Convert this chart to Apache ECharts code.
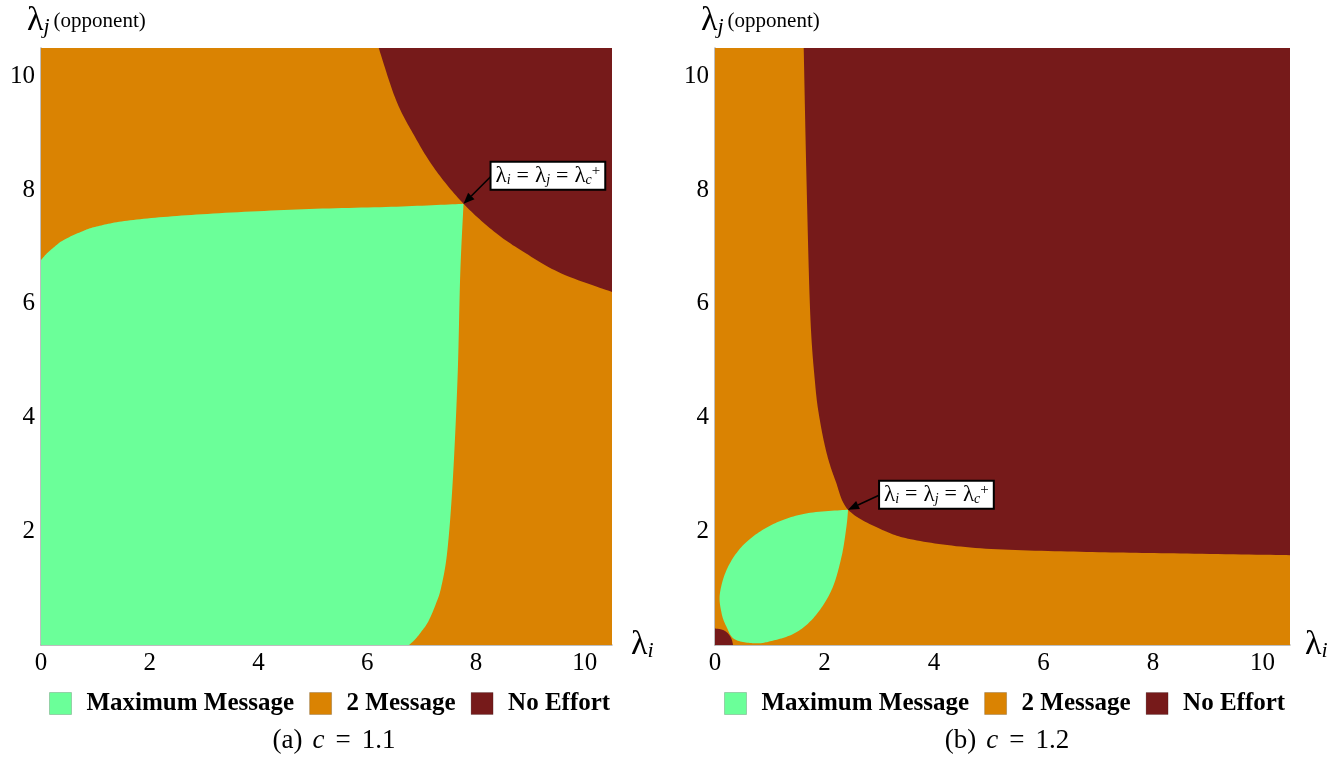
<!DOCTYPE html>
<html><head><meta charset="utf-8">
<script src="https://cdn.jsdelivr.net/npm/echarts@6/dist/echarts.min.js"></script>
<style>html,body{margin:0;padding:0;background:#fff}#c{width:1332px;height:759px}</style>
</head><body><div id="c"></div>
<script>
// ---------------- data ----------------
const tickValues = [0, 2, 4, 6, 8, 10];
const axisMin = 0, axisMax = 10.5;
const regionNames = ['Maximum Message', '2 Message', 'No Effort'];
const captionTags = ['(a)', '(b)'];
const cValues = ['1.1', '1.2'];

// panel (a): c = 1.1  — boundary curves
const plotBoxA = [[0, 0], [10.5, 0], [10.5, 10.5], [0, 10.5]];
const maxMsgTopA = [[0, 6.77], [0.10, 6.88], [0.23, 6.99], [0.41, 7.12], [0.72, 7.26], [1.02, 7.36], [1.64, 7.47], [2.86, 7.57],
  [4.70, 7.66], [6.54, 7.71], [7.77, 7.76]];
const maxMsgRightA = [[7.77, 7.76], [7.71, 6.54], [7.66, 4.70], [7.57, 2.86], [7.47, 1.64], [7.36, 1.02], [7.26, 0.72],
  [7.12, 0.41], [6.99, 0.23], [6.88, 0.10], [6.77, 0]];
const noEffortCurveA = [[6.21, 10.5], [6.53, 9.58], [6.88, 8.93], [7.25, 8.36], [7.77, 7.76], [8.36, 7.25], [8.93, 6.88],
  [9.58, 6.53], [10.5, 6.21]];
const criticalA = [7.77, 7.76];

// panel (b): c = 1.2
const plotBoxB = [[0, 0], [10.5, 0], [10.5, 10.5], [0, 10.5]];
const maxMsgLoopB = [[2.43, 2.38], [1.64, 2.31], [1.03, 2.11], [0.55, 1.79], [0.24, 1.38], [0.09, 0.91], [0.12, 0.56],
  [0.21, 0.32], [0.36, 0.10], [0.73, 0.03], [1.03, 0.07], [1.46, 0.21], [1.82, 0.50], [2.13, 0.97], [2.31, 1.55],
  [2.40, 2.08], [2.43, 2.38]];
const noEffortCurveB = [[1.62, 10.5], [1.67, 8.22], [1.74, 5.80], [1.83, 4.58], [1.91, 3.98], [2.04, 3.37], [2.20, 2.89],
  [2.43, 2.38], [3.02, 2.04], [3.63, 1.85], [4.85, 1.70], [6.67, 1.64], [8.50, 1.61], [10.5, 1.58]];
const noEffortCornerArcB = [[0, 0.29], [0.13, 0.27], [0.23, 0.21], [0.30, 0.11], [0.33, 0]];
const criticalB = [2.43, 2.38];

// ---------------- styling ----------------
const GREEN = '#6bff99', ORANGE = '#da8302', DARKRED = '#761a1a';
const SERIF = "'Liberation Serif','DejaVu Serif',serif";

// pieces: [{pts, smooth}] joined by straight lines; smooth pieces are drawn as Catmull-Rom curves in pixel space
function tracePieces(pieces, api) {
  const out = [];
  pieces.forEach(pc => {
    const P = pc.pts.map(p => api.coord(p));
    if (!pc.smooth || P.length < 3) { P.forEach(q => out.push(q)); return; }
    for (let i = 0; i < P.length - 1; i++) {
      const p0 = P[Math.max(i - 1, 0)], p1 = P[i], p2 = P[i + 1], p3 = P[Math.min(i + 2, P.length - 1)];
      const c1 = [p1[0] + (p2[0] - p0[0]) / 6, p1[1] + (p2[1] - p0[1]) / 6];
      const c2 = [p2[0] - (p3[0] - p1[0]) / 6, p2[1] - (p3[1] - p1[1]) / 6];
      const steps = 16;
      for (let s = 0; s < steps; s++) {
        const t = s / steps, u = 1 - t;
        out.push([
          u * u * u * p1[0] + 3 * u * u * t * c1[0] + 3 * u * t * t * c2[0] + t * t * t * p2[0],
          u * u * u * p1[1] + 3 * u * u * t * c1[1] + 3 * u * t * t * c2[1] + t * t * t * p2[1]
        ]);
      }
    }
    out.push(P[P.length - 1]);
  });
  return out;
}

function regionSeries(name, pieces, color, idx, z) {
  const allPts = [].concat(...pieces.map(p => p.pts));
  return {
    type: 'custom', name, xAxisIndex: idx, yAxisIndex: idx, z,
    itemStyle: { color }, silent: true, animation: false, clip: true,
    data: allPts, encode: { x: 0, y: 1 },
    renderItem: (params, api) => {
      if (params.dataIndex !== 0) return null;
      return { type: 'polygon', shape: { points: tracePieces(pieces, api) }, style: { fill: color } };
    }
  };
}

const annRich = {
  l: { fontFamily: SERIF, fontSize: 23, lineHeight: 24, fill: '#000' },
  t: { fontFamily: SERIF, fontSize: 22, lineHeight: 24, fill: '#000', padding: [0, 6, 0, 6] },
  s: { fontFamily: SERIF, fontSize: 14, fontStyle: 'italic', lineHeight: 14, verticalAlign: 'bottom', fill: '#000' },
  p: { fontFamily: SERIF, fontSize: 15, lineHeight: 15, verticalAlign: 'top', fill: '#000' }
};
const annText = '{l|λ}{s|i}{t|=}{l|λ}{s|j}{t|=}{l|λ}{s|c}{p|+}';

function annotationSeries(pt, idx, dx, dy) {
  return {
    type: 'custom', xAxisIndex: idx, yAxisIndex: idx, z: 10, silent: true, animation: false,
    data: [pt],
    renderItem: (params, api) => {
      const tip = api.coord([api.value(0), api.value(1)]);
      const tail = [tip[0] + dx, tip[1] + dy];
      const len = Math.hypot(dx, dy), ux = -dx / len, uy = -dy / len;
      const hl = 11, hw = 4.5;
      const base = [tip[0] - ux * hl, tip[1] - uy * hl];
      return {
        type: 'group', children: [
          { type: 'line', shape: { x1: tail[0], y1: tail[1], x2: base[0], y2: base[1] }, style: { stroke: '#000', lineWidth: 1.6 } },
          { type: 'polygon', shape: { points: [tip, [base[0] - uy * hw, base[1] + ux * hw], [base[0] + uy * hw, base[1] - ux * hw]] }, style: { fill: '#000' } },
          { type: 'text', x: tail[0], y: tail[1], style: {
              text: annText, rich: annRich, align: 'left', verticalAlign: 'middle',
              backgroundColor: '#fff', borderColor: '#000', borderWidth: 2, padding: [1, 4, 1, 4]
          } }
        ]
      };
    }
  };
}

const grids = [
  { left: 41, top: 48, width: 571, height: 597 },
  { left: 715, top: 48, width: 575, height: 597 }
];

function xAxis(idx) {
  return {
    type: 'value', gridIndex: idx, min: axisMin, max: axisMax, interval: 2,
    axisLine: { show: true, lineStyle: { color: '#a8a8a8', width: 1.5 } },
    axisTick: { show: false }, splitLine: { show: false },
    axisLabel: { fontFamily: SERIF, fontSize: 25, color: '#000', margin: 6,
      formatter: v => tickValues.includes(v) ? String(v) : '' }
  };
}
function yAxis(idx) {
  return {
    type: 'value', gridIndex: idx, min: axisMin, max: axisMax, interval: 2,
    axisLine: { show: true, lineStyle: { color: '#a8a8a8', width: 1.5 } },
    axisTick: { show: false }, splitLine: { show: false },
    axisLabel: { fontFamily: SERIF, fontSize: 25, color: '#000', margin: 6,
      formatter: v => (tickValues.includes(v) && v !== 0) ? String(v) : '' }
  };
}

function legend(left) {
  return {
    left, top: 686, data: regionNames, icon: 'rect', itemWidth: 22, itemHeight: 22, itemGap: 15,
    selectedMode: false,
    itemStyle: { borderWidth: 1, borderColor: 'rgba(0,0,0,0.18)' },
    textStyle: { fontFamily: SERIF, fontWeight: 'bold', fontSize: 25, color: '#000', padding: [0, 0, 0, 10] }
  };
}

const capRich = {
  n: { fontFamily: SERIF, fontSize: 27, fontWeight: 'normal', color: '#000' },
  i: { fontFamily: SERIF, fontSize: 27, fontWeight: 'normal', fontStyle: 'italic', color: '#000', padding: [0, 0, 0, 10] },
  e: { fontFamily: SERIF, fontSize: 27, fontWeight: 'normal', color: '#000', padding: [0, 11, 0, 11] }
};
function caption(i, center) {
  return {
    text: '{n|' + captionTags[i] + '}{i|c}{e|=}{n|' + cValues[i] + '}',
    left: center, top: 722, textAlign: 'center',
    textStyle: { rich: capRich, fontWeight: 'normal' }
  };
}

const axisNameRich = {
  L: { fontFamily: SERIF, fontSize: 34, fill: '#000' },
  S: { fontFamily: SERIF, fontSize: 22, fontStyle: 'italic', fill: '#000', verticalAlign: 'bottom', lineHeight: 22 },
  O: { fontFamily: SERIF, fontSize: 21, fill: '#000', padding: [0, 0, 0, 4] }
};
function yName(x) {
  return { type: 'text', x, y: 21, style: { text: '{L|λ}{S|j}{O|(opponent)}', rich: axisNameRich, verticalAlign: 'middle', align: 'left' } };
}
function xName(x) {
  return { type: 'text', x, y: 645, style: { text: '{L|λ}{S|i}', rich: axisNameRich, verticalAlign: 'middle', align: 'left' } };
}

const option = {
  backgroundColor: '#fff',
  animation: false,
  grid: grids,
  xAxis: [xAxis(0), xAxis(1)],
  yAxis: [yAxis(0), yAxis(1)],
  legend: [legend(44), legend(719)],
  title: [caption(0, 329), caption(1, 1002)],
  series: [
    regionSeries('2 Message', [{ pts: plotBoxA, smooth: false }], ORANGE, 0, 1),
    regionSeries('Maximum Message', [{ pts: [[0, 0]], smooth: false }, { pts: maxMsgTopA, smooth: true }, { pts: maxMsgRightA, smooth: true }], GREEN, 0, 2),
    regionSeries('No Effort', [{ pts: noEffortCurveA, smooth: true }, { pts: [[10.5, 10.5]], smooth: false }], DARKRED, 0, 3),
    regionSeries('2 Message', [{ pts: plotBoxB, smooth: false }], ORANGE, 1, 1),
    regionSeries('Maximum Message', [{ pts: maxMsgLoopB, smooth: true }], GREEN, 1, 2),
    regionSeries('No Effort', [{ pts: noEffortCurveB, smooth: true }, { pts: [[10.5, 10.5]], smooth: false }], DARKRED, 1, 3),
    regionSeries('No Effort', [{ pts: [[0, 0]], smooth: false }, { pts: noEffortCornerArcB, smooth: true }], DARKRED, 1, 3),
    annotationSeries(criticalA, 0, 28, -28),
    annotationSeries(criticalB, 1, 32, -15)
  ],
  graphic: [yName(27), yName(701), xName(631), xName(1305)]
};

const chart = echarts.init(document.getElementById('c'), null, { renderer: 'canvas' });
chart.setOption(option);
</script>
</body></html>
